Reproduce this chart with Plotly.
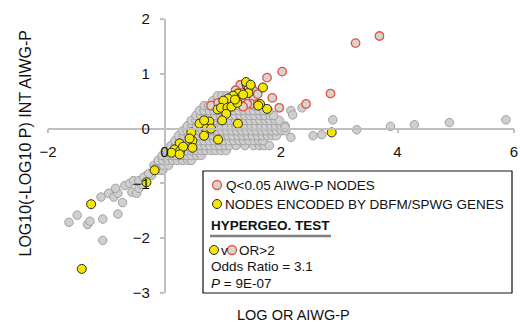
import plotly.graph_objects as go

# ---------------- data ----------------
# dense wedge of non-significant nodes, listed row by row (y, [x values])
gray_rows = [
    (-0.85, [-0.30, -0.22]),
    (-0.76, [-0.17, -0.09, -0.03]),
    (-0.67, [-0.18, -0.10, -0.02, 0.07]),
    (-0.58, [-0.11, -0.03, 0.05, 0.14, 0.22, 0.31, 0.40, 0.46]),
    (-0.49, [-0.04, 0.04, 0.12, 0.21, 0.29, 0.38, 0.46, 0.55, 0.63]),
    (-0.40, [0.04, 0.12, 0.20, 0.29, 0.37, 0.46, 0.54, 0.63, 0.71, 0.80, 0.88, 0.97, 1.06]),
    (-0.31, [0.11, 0.19, 0.27, 0.36, 0.44, 0.53, 0.61, 0.70, 0.78, 0.87, 0.95, 1.04, 1.12, 1.23, 1.38, 1.53, 1.63, 1.71, 1.80]),
    (-0.22, [0.18, 0.26, 0.34, 0.43, 0.51, 0.60, 0.68, 0.77, 0.85, 0.94, 1.02, 1.11, 1.19, 1.28, 1.36, 1.45, 1.54, 1.62, 1.69]),
    (-0.13, [0.24, 0.32, 0.41, 0.49, 0.58, 0.66, 0.75, 0.83, 0.92, 1.00, 1.09, 1.17, 1.26, 1.34, 1.43, 1.51, 1.60, 1.68, 1.77, 1.85, 1.92]),
    (-0.04, [0.31, 0.39, 0.48, 0.56, 0.65, 0.73, 0.82, 0.90, 0.99, 1.07, 1.16, 1.24, 1.33, 1.41, 1.50, 1.58, 1.67, 1.75, 1.84, 1.92, 2.01, 2.08]),
    (0.05, [0.39, 0.47, 0.55, 0.64, 0.72, 0.81, 0.89, 0.98, 1.06, 1.15, 1.23, 1.32, 1.40, 1.49, 1.57, 1.66, 1.74, 1.83, 1.91, 2.00, 2.07]),
    (0.15, [0.46, 0.54, 0.62, 0.71, 0.79, 0.88, 0.96, 1.05, 1.13, 1.22, 1.30, 1.39, 1.47, 1.56, 1.64, 1.73, 1.81, 1.90, 1.97]),
    (0.24, [0.54, 0.62, 0.70, 0.79, 0.87, 0.96, 1.04, 1.13, 1.21, 1.30, 1.38, 1.47, 1.55, 1.64, 1.72, 1.81, 1.87]),
    (0.33, [0.60, 0.68, 0.77, 0.85, 0.94, 1.02, 1.11, 1.19, 1.28, 1.36, 1.45, 1.53, 1.62, 1.70, 1.79]),
    (0.42, [0.68, 0.76, 0.84, 0.93, 1.01, 1.10, 1.18, 1.27, 1.52, 1.61]),
    (0.51, [0.83, 0.91, 1.00, 1.08, 1.17, 1.25, 1.34]),
    (0.60, [0.91, 0.99, 1.07, 1.16]),
]

# scattered non-significant nodes outside the wedge
gray_x = [-1.64, -1.50, -1.32, -1.28, -1.06, -1.06, -0.80, -1.09, -0.96, -0.87, -0.80, -0.84,
          -0.72, -0.68, -0.60, -0.56, -0.48, -0.44, -0.39, -0.53, -0.44, -0.36, -0.27, -0.17,
          2.17, 2.20, 2.36, 2.89, 2.07, 2.17, 2.55, 2.70, 3.30, 3.88, 4.29, 4.89, 5.86]
gray_y = [-1.71, -1.58, -1.75, -1.69, -1.65, -2.04, -1.56, -1.25, -1.18, -1.25, -1.18, -1.09,
          -1.35, -1.04, -1.00, -1.16, -1.18, -1.09, -1.02, -0.95, -0.95, -0.89, -0.82, -0.73,
          0.33, 0.25, 0.38, 0.16, 0.02, -0.16, -0.13, -0.11, -0.02, 0.04, 0.07, 0.11, 0.16]

# Q<0.05 AIWG-P nodes (red outline)
red_x = [3.28, 3.69, 2.02, 1.76, 1.85, 1.97, 2.43, 2.85, 0.80, 0.92, 1.05,
         1.34, 1.44, 1.50, 1.38, 1.45, 1.53, 1.49, 1.60, 1.53, 1.60, 1.30, 1.40, 1.42, 1.35, 1.22]
red_y = [1.56, 1.69, 1.04, 0.93, 0.56, 0.38, 0.45, 0.64, 0.42, 0.47, 0.50,
         0.73, 0.69, 0.73, 0.55, 0.52, 0.55, 0.45, 0.45, 0.69, 0.63, 0.80, 0.82, 0.45, 0.40, 0.70]

# nodes encoded by DBFM/SPWG genes (yellow)
yellow_x = [2.87, 1.69, 1.76, 1.64, 1.61, 1.42, 1.45, 1.44, 1.26, 1.18, 1.09, 1.01, 0.91, 0.97,
            1.08, 1.15, 1.25, 1.06, 0.99, 1.26, 0.77, 0.68, 0.60, 0.72, 0.80, 0.68, 0.46, 0.48,
            0.43, 0.92, 0.48, 0.26, 0.17, 0.27, 0.32, 0.12, 0.26, -0.17, -0.31, -1.26, -1.42,
            1.40, 1.48, 1.35, 1.21, 0.68]
yellow_y = [-0.07, 0.75, 0.36, 0.45, 0.42, 0.78, 0.75, 0.65, 0.64, 0.60, 0.55, 0.51, 0.35, 0.38,
            0.38, 0.40, 0.47, 0.27, 0.15, 0.09, 0.13, 0.04, 0.09, 0.00, 0.00, -0.13, -0.07, -0.22,
            -0.18, -0.20, -0.35, -0.27, -0.38, -0.40, -0.33, -0.44, -0.47, -0.76, -0.98, -1.38, -2.56,
            0.85, 0.80, 0.62, 0.53, 0.15]

x_ticks = [-2, 0, 2, 4, 6]
y_ticks = [-3, -2, -1, 0, 1, 2]

# ---------------- figure ----------------
W, H = 520, 334
ML, MR, MT, MB = 48, 6, 19, 41
FONT = "Liberation Sans, Arial, sans-serif"

gx, gy = [], []
for yv, xs in gray_rows:
    for xv in xs:
        gx.append(xv)
        gy.append(yv)
gx += gray_x
gy += gray_y

fig = go.Figure()
fig.add_trace(go.Scatter(x=gx, y=gy, mode="markers",
                         marker=dict(size=8.5, color="#cfcfcf", line=dict(color="#a0a0a0", width=1))))
fig.add_trace(go.Scatter(x=red_x, y=red_y, mode="markers",
                         marker=dict(size=8.5, color="#d4d4d4", line=dict(color="#e8533d", width=1.3))))
fig.add_trace(go.Scatter(x=yellow_x, y=yellow_y, mode="markers",
                         marker=dict(size=9, color="#f3e600", line=dict(color="#2b2b2b", width=1))))

axis_common = dict(showgrid=False, zeroline=False, showline=True, linecolor="#bfbfbf", linewidth=1.5,
                   ticks="outside", ticklen=4, tickcolor="#bfbfbf", tickwidth=1.5,
                   tickfont=dict(family=FONT, size=15, color="#111111"))

fig.update_layout(
    width=W, height=H, margin=dict(l=ML, r=MR, t=MT, b=MB, autoexpand=False),
    paper_bgcolor="white", plot_bgcolor="white", showlegend=False,
    xaxis=dict(range=[-2, 6], tickvals=x_ticks, anchor="free", position=0.6,
               ticklabelstandoff=6, **axis_common),
    yaxis=dict(range=[-3, 2], tickvals=y_ticks, anchor="free", position=0.25,
               ticklabelstandoff=7, **axis_common),
)


def fx(px):
    return (px - ML) / (W - ML - MR)


def fy(py):
    return (H - MB - py) / (H - MT - MB)


ann = []
ann.append(dict(text="LOG10(-LOG10 P) INT AIWG-P", x=fx(14), y=fy(144), xref="paper", yref="paper",
                textangle=-90, showarrow=False, font=dict(family=FONT, size=16, color="#111")))
ann.append(dict(text="LOG OR AIWG-P", x=fx(293), y=fy(325), xref="paper", yref="paper",
                showarrow=False, font=dict(family=FONT, size=14.5, color="#111")))

LF = dict(family=FONT, size=13.5, color="#111")
legend_text = [
    ("Q<0.05 AIWG-P NODES", 224, 185),
    ("NODES ENCODED BY DBFM/SPWG GENES", 223, 204),
    ("<b>HYPERGEO. TEST</b>", 209, 225),
    ("v", 219, 250),
    ("OR>2", 237, 250),
    ("Odds Ratio = 3.1", 209, 266),
    ("<i>P</i> = 9E-07", 209, 283),
]
for t, px, py in legend_text:
    ann.append(dict(text=t, x=fx(px), y=fy(py), xref="paper", yref="paper", xanchor="left",
                    yanchor="middle", showarrow=False, font=LF))

shapes = [
    dict(type="rect", xref="paper", yref="paper", x0=fx(203), x1=fx(512), y0=fy(293), y1=fy(171),
         line=dict(color="#111", width=1.2), fillcolor="white", layer="above"),
    dict(type="line", xref="paper", yref="paper", x0=fx(210), x1=fx(331), y0=fy(236), y1=fy(236),
         line=dict(color="#7f7f7f", width=2.5), layer="above"),
]


def circ(px, py, fill, edge, ew):
    return dict(type="circle", xref="paper", yref="paper", xsizemode="pixel", ysizemode="pixel",
                xanchor=fx(px), yanchor=fy(py), x0=-4.5, x1=4.5, y0=-4.5, y1=4.5,
                fillcolor=fill, line=dict(color=edge, width=ew), layer="above")


shapes.append(circ(217, 185, "#d4d4d4", "#e8533d", 1.3))
shapes.append(circ(217, 204, "#f3e600", "#2b2b2b", 1))
shapes.append(circ(214, 250, "#f3e600", "#2b2b2b", 1))
shapes.append(circ(232, 250, "#d4d4d4", "#e8533d", 1.3))

fig.update_layout(annotations=ann, shapes=shapes)
fig.write_html("out.html", config={"displayModeBar": False},
               post_script="document.body.style.margin='0px';")
